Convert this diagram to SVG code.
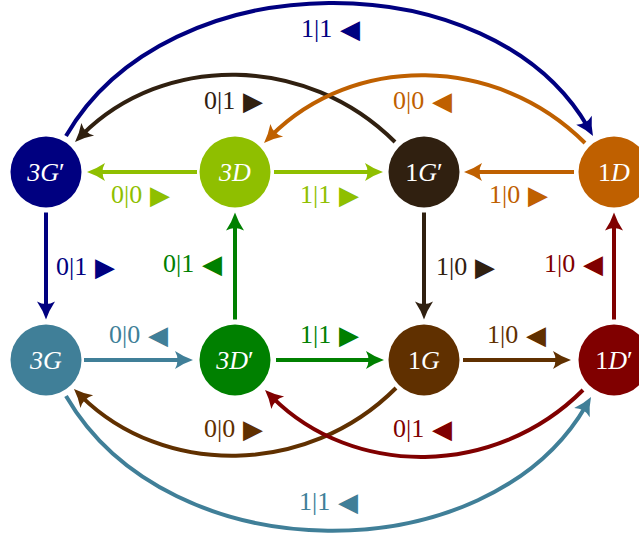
<svg xmlns="http://www.w3.org/2000/svg" width="639" height="537" viewBox="0 0 639 537">
  <style>
    .edge { fill: none; stroke-width: 4; }
    .node-label { font-family: "Liberation Serif", serif; font-size: 26px; fill: #ffffff; text-anchor: middle; }
    .num { font-family: "Liberation Serif", serif; font-size: 26px; }
    .tri { font-family: "DejaVu Sans", sans-serif; font-size: 26px; }
    .it { font-style: italic; }
    .navy { stroke: #000080; } .navy-t { fill: #000080; }
    .lime { stroke: #8fbf00; } .lime-t { fill: #8fbf00; }
    .dbrown { stroke: #302010; } .dbrown-t { fill: #302010; }
    .orange { stroke: #bf6000; } .orange-t { fill: #bf6000; }
    .steel { stroke: #407f98; } .steel-t { fill: #407f98; }
    .green { stroke: #008000; } .green-t { fill: #008000; }
    .brown { stroke: #603000; } .brown-t { fill: #603000; }
    .dred { stroke: #800000; } .dred-t { fill: #800000; }
  </style>
  <defs>
    <path id="head" d="M10,0 Q1,-3 -8,-9 Q-3,0 -8,9 Q1,3 10,0 Z"/>
    <marker id="a-navy" markerUnits="userSpaceOnUse" markerWidth="40" markerHeight="40" refX="0" refY="0" orient="auto" overflow="visible"><use href="#head" fill="#000080"/></marker>
    <marker id="a-lime" markerUnits="userSpaceOnUse" markerWidth="40" markerHeight="40" refX="0" refY="0" orient="auto" overflow="visible"><use href="#head" fill="#8fbf00"/></marker>
    <marker id="a-dbrown" markerUnits="userSpaceOnUse" markerWidth="40" markerHeight="40" refX="0" refY="0" orient="auto" overflow="visible"><use href="#head" fill="#302010"/></marker>
    <marker id="a-orange" markerUnits="userSpaceOnUse" markerWidth="40" markerHeight="40" refX="0" refY="0" orient="auto" overflow="visible"><use href="#head" fill="#bf6000"/></marker>
    <marker id="a-steel" markerUnits="userSpaceOnUse" markerWidth="40" markerHeight="40" refX="0" refY="0" orient="auto" overflow="visible"><use href="#head" fill="#407f98"/></marker>
    <marker id="a-green" markerUnits="userSpaceOnUse" markerWidth="40" markerHeight="40" refX="0" refY="0" orient="auto" overflow="visible"><use href="#head" fill="#008000"/></marker>
    <marker id="a-brown" markerUnits="userSpaceOnUse" markerWidth="40" markerHeight="40" refX="0" refY="0" orient="auto" overflow="visible"><use href="#head" fill="#603000"/></marker>
    <marker id="a-dred" markerUnits="userSpaceOnUse" markerWidth="40" markerHeight="40" refX="0" refY="0" orient="auto" overflow="visible"><use href="#head" fill="#800000"/></marker>
  </defs>

  <!-- transitions -->
  <g id="connectors">
    <!-- straight, top row -->
    <path class="edge lime" d="M197,172 L97,172" marker-end="url(#a-lime)"/>
    <path class="edge lime" d="M274,172 L373,172" marker-end="url(#a-lime)"/>
    <path class="edge orange" d="M574,172 L474,172" marker-end="url(#a-orange)"/>
    <!-- straight, bottom row -->
    <path class="edge steel" d="M84,360 L183,360" marker-end="url(#a-steel)"/>
    <path class="edge green" d="M276,360 L374,360" marker-end="url(#a-green)"/>
    <path class="edge brown" d="M463,360 L561,360" marker-end="url(#a-brown)"/>
    <!-- verticals -->
    <path class="edge navy" d="M46,212.5 L46,309.5" marker-end="url(#a-navy)"/>
    <path class="edge green" d="M235,319.5 L235,222.5" marker-end="url(#a-green)"/>
    <path class="edge dbrown" d="M424,212.5 L424,309.5" marker-end="url(#a-dbrown)"/>
    <path class="edge dred" d="M614,319.5 L614,222.5" marker-end="url(#a-dred)"/>
    <!-- arcs above -->
    <path class="edge navy" d="M66,136 C167.5,-40 491.5,-40 588,127.3" marker-end="url(#a-navy)"/>
    <path class="edge dbrown" d="M395,142 C306.5,53.5 163.5,53.5 82.1,134.9" marker-end="url(#a-dbrown)"/>
    <path class="edge orange" d="M585,143 C496,54 353,54 271.1,135.9" marker-end="url(#a-orange)"/>
    <!-- arcs below -->
    <path class="edge brown" d="M396,388 C307,477 163,477 81.1,396.1" marker-end="url(#a-brown)"/>
    <path class="edge dred" d="M583,390 C495,478 353,478 272.1,397.1" marker-end="url(#a-dred)"/>
    <path class="edge steel" d="M66,396 C169,574 488,574 586,405.7" marker-end="url(#a-steel)"/>
  </g>

  <!-- transition labels -->
  <g id="labels">
    <text class="num lime-t" x="111" y="203">0|0</text><text class="tri lime-t" x="150" y="204">▶</text>
    <text class="num lime-t" x="300" y="203">1|1</text><text class="tri lime-t" x="339" y="204">▶</text>
    <text class="num orange-t" x="489" y="203">1|0</text><text class="tri orange-t" x="528" y="204">▶</text>

    <text class="num steel-t" x="109" y="343">0|0</text><text class="tri steel-t" x="148" y="344">◀</text>
    <text class="num green-t" x="300" y="343">1|1</text><text class="tri green-t" x="339" y="344">▶</text>
    <text class="num brown-t" x="487" y="343">1|0</text><text class="tri brown-t" x="526" y="344">◀</text>

    <text class="num navy-t" x="56" y="275">0|1</text><text class="tri navy-t" x="95" y="276">▶</text>
    <text class="num green-t" x="163" y="272">0|1</text><text class="tri green-t" x="202" y="273">◀</text>
    <text class="num dbrown-t" x="436" y="275">1|0</text><text class="tri dbrown-t" x="475" y="276">▶</text>
    <text class="num dred-t" x="544" y="272">1|0</text><text class="tri dred-t" x="583" y="273">◀</text>

    <text class="num navy-t" x="301" y="37">1|1</text><text class="tri navy-t" x="340" y="38">◀</text>
    <text class="num dbrown-t" x="204" y="109">0|1</text><text class="tri dbrown-t" x="243" y="110">▶</text>
    <text class="num orange-t" x="393" y="109">0|0</text><text class="tri orange-t" x="432" y="110">◀</text>
    <text class="num brown-t" x="204" y="437">0|0</text><text class="tri brown-t" x="243" y="438">▶</text>
    <text class="num dred-t" x="393" y="437">0|1</text><text class="tri dred-t" x="432" y="438">◀</text>
    <text class="num steel-t" x="299" y="510">1|1</text><text class="tri steel-t" x="338" y="511">◀</text>
  </g>

  <!-- states -->
  <g id="n-3Gp">
    <circle cx="46" cy="172" r="35.5" fill="#000080"/>
    <text class="node-label" x="46" y="181"><tspan class="it">3G</tspan>′</text>
  </g>
  <g id="n-3D">
    <circle cx="235" cy="172" r="35.5" fill="#8fbf00"/>
    <text class="node-label it" x="235" y="181">3D</text>
  </g>
  <g id="n-1Gp">
    <circle cx="424" cy="172" r="35.5" fill="#302010"/>
    <text class="node-label" x="424" y="181">1<tspan class="it">G</tspan>′</text>
  </g>
  <g id="n-1D">
    <circle cx="614" cy="172" r="35.5" fill="#bf6000"/>
    <text class="node-label" x="614" y="181">1<tspan class="it">D</tspan></text>
  </g>
  <g id="n-3G">
    <circle cx="46" cy="360" r="35.5" fill="#407f98"/>
    <text class="node-label it" x="46" y="369">3G</text>
  </g>
  <g id="n-3Dp">
    <circle cx="235" cy="360" r="35.5" fill="#008000"/>
    <text class="node-label" x="235" y="369"><tspan class="it">3D</tspan>′</text>
  </g>
  <g id="n-1G">
    <circle cx="424" cy="360" r="35.5" fill="#603000"/>
    <text class="node-label" x="424" y="369">1<tspan class="it">G</tspan></text>
  </g>
  <g id="n-1Dp">
    <circle cx="614" cy="360" r="35.5" fill="#800000"/>
    <text class="node-label" x="614" y="369">1<tspan class="it">D</tspan>′</text>
  </g>
</svg>
